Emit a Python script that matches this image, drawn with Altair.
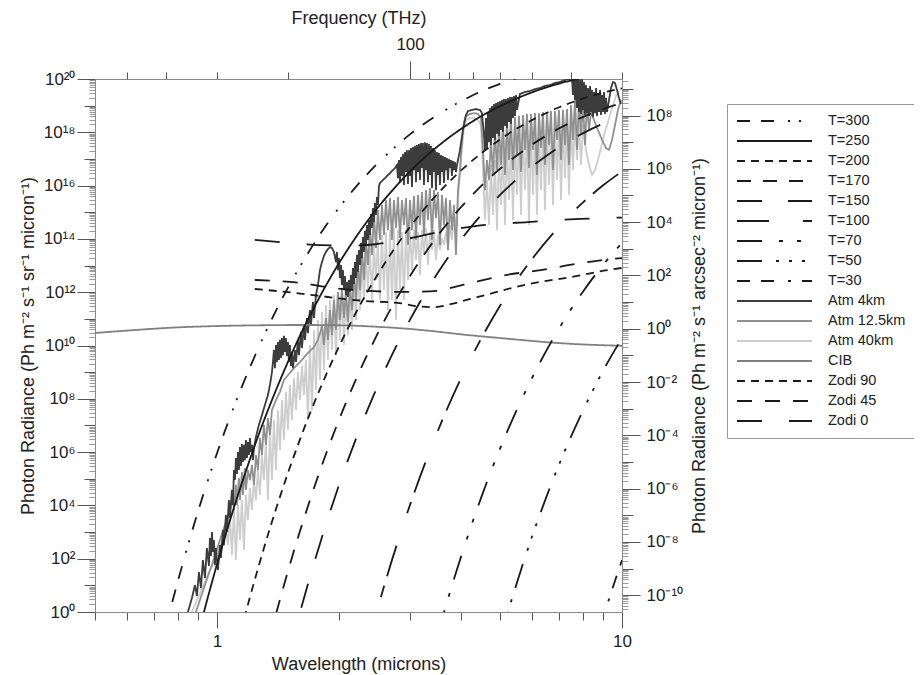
import altair as alt
import pandas as pd

FONT = "Liberation Sans"
TXT = "#222222"
SR_IN_ARCSEC2 = 206264.806 ** 2      # arcsec^2 per steradian
C_UM_THZ = 299.792458                # wavelength(um) * frequency(THz)

# ---------------- blackbody curves: wavelength (um), log10 photon radiance ----------------
t300_lam = [0.7, 0.75, 0.8, 0.85, 0.9, 0.95, 1.0, 1.1, 1.2, 1.3, 1.4, 1.5, 1.6, 1.8, 2.0, 2.2, 2.5, 2.8, 3.0, 3.5, 4.0, 4.5, 5.0, 5.5, 6.0]
t300_log = [-2.36, -0.49, 1.13, 2.56, 3.82, 4.94, 5.95, 7.68, 9.10, 10.30, 11.32, 12.19, 12.94, 14.19, 15.16, 15.94, 16.85, 17.55, 17.93, 18.65, 19.16, 19.54, 19.82, 20.03, 20.19]
t250_lam = [0.9, 0.95, 1.0, 1.1, 1.2, 1.3, 1.4, 1.5, 1.6, 1.8, 2.0, 2.2, 2.5, 2.8, 3.0, 3.5, 4.0, 4.5, 5.0, 5.5, 6.0, 7.0, 8.0]
t250_log = [-0.81, 0.56, 1.78, 3.89, 5.63, 7.10, 8.34, 9.41, 10.34, 11.87, 13.08, 14.05, 15.19, 16.06, 16.54, 17.46, 18.12, 18.61, 18.98, 19.27, 19.50, 19.83, 20.04]
t200_lam = [1.1, 1.2, 1.3, 1.4, 1.5, 1.6, 1.8, 2.0, 2.2, 2.5, 2.8, 3.0, 3.5, 4.0, 4.5, 5.0, 5.5, 6.0, 7.0, 8.0, 9.0, 10.0]
t200_log = [-1.79, 0.43, 2.29, 3.88, 5.25, 6.44, 8.40, 9.95, 11.21, 12.69, 13.83, 14.46, 15.68, 16.56, 17.22, 17.73, 18.14, 18.46, 18.94, 19.26, 19.49, 19.65]
t170_lam = [1.3, 1.4, 1.5, 1.6, 1.8, 2.0, 2.2, 2.5, 2.8, 3.0, 3.5, 4.0, 4.5, 5.0, 5.5, 6.0, 7.0, 8.0, 9.0, 10.0]
t170_log = [-1.95, -0.06, 1.57, 2.99, 5.34, 7.20, 8.70, 10.48, 11.86, 12.62, 14.10, 15.18, 16.00, 16.63, 17.13, 17.54, 18.15, 18.57, 18.88, 19.10]
t150_lam = [1.5, 1.6, 1.8, 2.0, 2.2, 2.5, 2.8, 3.0, 3.5, 4.0, 4.5, 5.0, 5.5, 6.0, 7.0, 8.0, 9.0, 10.0]
t150_log = [-1.70, -0.07, 2.61, 4.75, 6.47, 8.52, 10.11, 10.98, 12.70, 13.96, 14.91, 15.65, 16.24, 16.72, 17.45, 17.96, 18.33, 18.61]
t100_lam = [2.3, 2.4, 2.5, 2.6, 2.8, 3.0, 3.25, 3.5, 4.0, 4.5, 5.0, 5.5, 6.0, 7.0, 8.0, 9.0, 10.0]
t100_log = [-1.84, -0.78, 0.19, 1.09, 2.67, 4.04, 5.50, 6.75, 8.75, 10.28, 11.49, 12.46, 13.25, 14.47, 15.36, 16.02, 16.53]
t70_lam = [3.4, 3.6, 3.8, 4.0, 4.25, 4.5, 5.0, 5.5, 6.0, 7.0, 8.0, 9.0, 10.0]
t70_log = [-1.60, -0.24, 0.97, 2.05, 3.26, 4.33, 6.13, 7.59, 8.79, 10.65, 12.01, 13.04, 13.85]
t50_lam = [4.8, 5.0, 5.25, 5.5, 6.0, 6.5, 7.0, 8.0, 9.0, 10.0]
t50_log = [-1.98, -1.01, 0.09, 1.09, 2.84, 4.30, 5.55, 7.54, 9.08, 10.28]
t30_lam = [8.5, 8.75, 9.0, 9.5, 10.0]
t30_log = [-1.44, -0.79, -0.18, 0.94, 1.95]

# ---------------- cosmic infrared background and zodiacal light ----------------
cib_lam = [0.5, 0.6, 0.7, 0.8, 1.0, 1.3, 1.6, 2.0, 2.5, 3.0, 3.5, 4.0, 5.0, 6.0, 7.0, 8.0, 9.0, 10.0]
cib_log = [10.47, 10.56, 10.63, 10.68, 10.73, 10.76, 10.77, 10.76, 10.70, 10.62, 10.52, 10.42, 10.28, 10.17, 10.09, 10.04, 10.01, 9.99]
zodi90_lam = [1.24, 1.5, 1.73, 2.08, 2.33, 2.83, 3.1, 3.44, 3.8, 4.2, 4.6, 5.1, 6.25, 7.5, 9.2, 10.0]
zodi90_log = [12.12, 12.0, 11.89, 11.74, 11.67, 11.59, 11.48, 11.44, 11.56, 11.74, 11.89, 12.08, 12.38, 12.57, 12.83, 12.91]
zodi45_lam = [1.24, 1.6, 1.93, 2.35, 2.9, 3.5, 3.87, 4.25, 5.2, 6.3, 7.7, 9.5, 10.0]
zodi45_log = [12.46, 12.35, 12.16, 12.05, 12.01, 12.05, 12.2, 12.35, 12.65, 12.83, 13.06, 13.25, 13.28]
zodi0_lam = [1.24, 1.5, 1.8, 2.1, 2.46, 2.9, 3.27, 3.8, 4.34, 5.0, 5.85, 6.8, 7.9, 10.0]
zodi0_log = [13.96, 13.85, 13.77, 13.75, 13.8, 13.98, 14.15, 14.35, 14.48, 14.57, 14.63, 14.7, 14.75, 14.8]

# ---------------- atmospheric spectra: (log10 wavelength um, log10 photon radiance) ----------------
atm4km = [
    (-0.0716, 0.00), (-0.0617, 0.53), (-0.0543, 1.01), (-0.0494, 0.60), (-0.0444, 1.50), (-0.0395, 0.90),
    (-0.0346, 1.95), (-0.0296, 1.28), (-0.0247, 2.40), (-0.0198, 1.73), (-0.0173, 2.78), (-0.0148, 2.10),
    (-0.0123, 3.00), (-0.0099, 2.25), (-0.0074, 2.70), (-0.0049, 1.76), (-0.0025, 2.40), (0.0025, 1.58),
    (0.0074, 2.51), (0.0099, 2.03), (0.0148, 3.08), (0.0173, 2.51), (0.0222, 3.64), (0.0247, 3.00),
    (0.0296, 4.20), (0.0321, 3.53), (0.0370, 4.58), (0.0395, 4.01),
    (0.0420, 5.33), (0.0444, 4.95), (0.0469, 5.78), (0.0494, 5.18), (0.0519, 6.00), (0.0543, 5.33),
    (0.0568, 6.19), (0.0593, 5.48), (0.0617, 6.30), (0.0642, 5.63), (0.0667, 6.27), (0.0691, 5.70),
    (0.0716, 6.45), (0.0741, 5.78), (0.0765, 6.38), (0.0790, 5.89), (0.0815, 6.53), (0.0840, 6.00),
    (0.0864, 6.27), (0.0889, 5.70), (0.0914, 6.15),
    (0.0963, 6.57), (0.1037, 7.02), (0.1111, 7.39), (0.1185, 7.77), (0.1259, 8.14), (0.1309, 8.52), (0.1358, 9.00),
    (0.1383, 9.38), (0.1407, 9.83), (0.1432, 9.15), (0.1457, 10.02), (0.1481, 9.38), (0.1506, 10.13),
    (0.1531, 9.46), (0.1556, 10.21), (0.1580, 9.53), (0.1605, 10.28), (0.1630, 9.64), (0.1654, 10.36),
    (0.1679, 9.76), (0.1704, 10.28), (0.1728, 9.61), (0.1753, 10.13), (0.1778, 9.38), (0.1802, 10.02),
    (0.1827, 9.23), (0.1852, 9.76), (0.1877, 9.15),
    (0.1926, 9.83), (0.1951, 9.38), (0.2000, 10.21), (0.2025, 9.64), (0.2074, 10.51), (0.2099, 9.91),
    (0.2148, 10.77), (0.2173, 10.21), (0.2222, 11.03), (0.2247, 10.47), (0.2296, 11.33), (0.2321, 10.77),
    (0.2370, 11.63), (0.2395, 11.03),
    (0.2444, 11.89), (0.2494, 12.27), (0.2543, 12.83), (0.2593, 13.13), (0.2642, 13.36), (0.2691, 13.51),
    (0.2741, 13.62), (0.2790, 13.69), (0.2840, 13.66), (0.2889, 13.51), (0.2938, 13.13), (0.2963, 13.51),
    (0.2988, 12.83), (0.3012, 13.28), (0.3037, 12.53), (0.3062, 13.02), (0.3086, 12.27), (0.3111, 12.83),
    (0.3136, 12.08), (0.3160, 12.61), (0.3185, 11.89), (0.3210, 12.38), (0.3235, 11.82), (0.3259, 12.46),
    (0.3284, 12.01),
    (0.3309, 12.64), (0.3333, 12.08), (0.3358, 12.91), (0.3383, 12.31), (0.3407, 13.13), (0.3432, 12.53),
    (0.3457, 13.40), (0.3481, 12.76), (0.3506, 13.58), (0.3531, 13.02), (0.3556, 13.85), (0.3580, 13.28),
    (0.3605, 14.07), (0.3630, 13.51), (0.3654, 14.30), (0.3679, 13.73), (0.3704, 14.52), (0.3728, 13.96),
    (0.3753, 14.71), (0.3778, 14.15), (0.3802, 14.93), (0.3827, 14.41), (0.3852, 15.16), (0.3877, 14.63),
    (0.3901, 15.35), (0.3926, 14.90), (0.3951, 15.57), (0.3975, 15.27), (0.4000, 15.98), (0.4025, 16.10),
    (0.4148, 16.28), (0.4272, 16.47), (0.4395, 16.66),
    (0.4444, 16.77), (0.4469, 16.28), (0.4494, 16.96), (0.4519, 16.13), (0.4543, 17.07), (0.4568, 16.36),
    (0.4593, 17.18), (0.4617, 16.02), (0.4642, 17.26), (0.4667, 16.51), (0.4691, 17.33), (0.4716, 16.06),
    (0.4741, 17.33), (0.4765, 16.36), (0.4790, 17.41), (0.4815, 15.95), (0.4840, 17.45), (0.4864, 16.58),
    (0.4889, 17.49), (0.4914, 16.13), (0.4938, 17.52), (0.4963, 16.51), (0.4988, 17.56), (0.5012, 16.21),
    (0.5037, 17.60), (0.5062, 16.66), (0.5086, 17.60), (0.5111, 16.02), (0.5136, 17.63), (0.5160, 16.58),
    (0.5185, 17.60), (0.5210, 16.13), (0.5235, 17.56), (0.5259, 16.40), (0.5284, 17.49), (0.5309, 15.91),
    (0.5333, 17.41), (0.5358, 16.51), (0.5383, 17.33), (0.5407, 15.83), (0.5432, 17.26), (0.5457, 16.40),
    (0.5481, 17.22), (0.5506, 16.02), (0.5531, 17.15), (0.5556, 16.51), (0.5580, 17.11), (0.5605, 16.10),
    (0.5630, 17.07), (0.5654, 16.58), (0.5679, 17.03), (0.5704, 16.21), (0.5728, 17.00), (0.5753, 16.66),
    (0.5778, 16.96), (0.5802, 16.36), (0.5827, 16.92), (0.5852, 16.58), (0.5877, 16.88), (0.5901, 16.51),
    (0.5926, 16.77),
    (0.6000, 17.33), (0.6074, 18.09), (0.6148, 18.65), (0.6198, 18.80), (0.6296, 18.84), (0.6395, 18.87),
    (0.6494, 18.84), (0.6543, 18.72), (0.6593, 17.90), (0.6617, 17.33),
    (0.6642, 18.54), (0.6667, 17.41), (0.6691, 18.76), (0.6716, 17.63), (0.6741, 18.91), (0.6765, 17.52),
    (0.6790, 18.99), (0.6815, 17.79), (0.6840, 19.06), (0.6864, 17.71), (0.6889, 19.10), (0.6914, 17.94),
    (0.6938, 19.14), (0.6963, 17.86), (0.6988, 19.17), (0.7012, 18.09), (0.7037, 19.21), (0.7062, 18.01),
    (0.7086, 19.25), (0.7111, 18.24), (0.7136, 19.25), (0.7160, 18.16), (0.7185, 19.29), (0.7210, 18.39),
    (0.7235, 19.32), (0.7259, 18.31), (0.7284, 19.32), (0.7309, 18.54), (0.7333, 19.36), (0.7358, 18.61),
    (0.7383, 19.40), (0.7407, 18.84),
    (0.7481, 19.44), (0.7605, 19.51), (0.7728, 19.55), (0.7852, 19.62), (0.7975, 19.66), (0.8099, 19.74),
    (0.8222, 19.77), (0.8346, 19.85), (0.8469, 19.89), (0.8593, 19.96), (0.8716, 20.00),
    (0.8765, 20.04), (0.8790, 19.40), (0.8815, 20.07), (0.8840, 19.21), (0.8864, 20.04), (0.8889, 18.91),
    (0.8914, 20.07), (0.8938, 18.76), (0.8963, 19.96), (0.8988, 18.69), (0.9012, 20.04), (0.9037, 18.84),
    (0.9062, 19.89), (0.9086, 18.65), (0.9111, 19.77), (0.9136, 18.72), (0.9160, 19.66), (0.9185, 18.61),
    (0.9210, 19.74), (0.9235, 18.76), (0.9259, 19.59), (0.9284, 18.57), (0.9309, 19.51), (0.9333, 18.72),
    (0.9358, 19.66), (0.9383, 18.61), (0.9407, 19.47), (0.9432, 18.76), (0.9457, 19.59), (0.9481, 18.65),
    (0.9506, 19.40), (0.9531, 18.76), (0.9556, 19.51), (0.9580, 18.69), (0.9605, 19.29), (0.9630, 18.76),
    (0.9679, 19.21), (0.9728, 19.66), (0.9778, 19.89), (0.9827, 19.85), (0.9877, 19.59), (0.9926, 19.29),
    (0.9975, 19.06),
]

atm12km = [
    (-0.0519, 0.00), (-0.0420, 0.45), (-0.0321, 0.90), (-0.0222, 1.35), (-0.0123, 1.76), (-0.0025, 2.25),
    (0.0074, 2.70), (0.0173, 3.15), (0.0272, 3.60), (0.0346, 4.01), (0.0395, 4.58), (0.0420, 3.83),
    (0.0469, 4.77), (0.0494, 4.01), (0.0543, 5.03), (0.0568, 4.20), (0.0617, 5.25), (0.0642, 4.39),
    (0.0691, 5.40), (0.0716, 4.58), (0.0765, 5.33), (0.0815, 4.95), (0.0864, 5.52), (0.0914, 4.77),
    (0.0963, 5.89), (0.1012, 5.33), (0.1062, 6.53), (0.1111, 5.89), (0.1160, 7.02), (0.1210, 6.27),
    (0.1259, 7.28), (0.1309, 6.64), (0.1358, 7.58), (0.1457, 7.95), (0.1556, 8.26), (0.1654, 8.71),
    (0.1802, 8.97), (0.1951, 9.23), (0.2099, 9.46), (0.2247, 9.72), (0.2395, 9.94), (0.2494, 10.21),
    (0.2568, 10.58), (0.2593, 10.77), (0.2642, 10.02), (0.2691, 11.03), (0.2741, 10.21), (0.2790, 11.33),
    (0.2840, 10.39), (0.2889, 11.71), (0.2938, 10.58), (0.2988, 12.01), (0.3037, 10.96), (0.3086, 12.16),
    (0.3136, 11.03), (0.3185, 12.08), (0.3235, 10.88), (0.3284, 12.27), (0.3333, 11.33), (0.3383, 12.65),
    (0.3432, 11.71), (0.3481, 13.13), (0.3531, 12.08), (0.3580, 13.58), (0.3630, 12.46), (0.3679, 13.96),
    (0.3728, 13.02), (0.3778, 14.41), (0.3827, 13.40), (0.3877, 14.90), (0.3926, 13.66), (0.3975, 15.08),
    (0.4025, 13.96), (0.4074, 15.27), (0.4123, 14.15), (0.4173, 15.46), (0.4222, 14.33), (0.4272, 15.53),
    (0.4321, 13.96), (0.4370, 15.46), (0.4420, 14.41), (0.4469, 15.57), (0.4519, 14.03), (0.4568, 15.46),
    (0.4617, 14.52), (0.4667, 15.53), (0.4716, 13.77), (0.4765, 15.46), (0.4815, 14.33), (0.4864, 15.61),
    (0.4914, 13.96), (0.4963, 15.65), (0.5012, 14.52), (0.5062, 15.76), (0.5111, 14.15), (0.5160, 15.83),
    (0.5210, 14.71), (0.5259, 15.91), (0.5309, 13.96), (0.5358, 15.83), (0.5407, 14.78), (0.5457, 15.76),
    (0.5506, 13.77), (0.5556, 15.65), (0.5605, 14.52), (0.5654, 15.53), (0.5704, 13.58), (0.5753, 15.46),
    (0.5802, 14.33), (0.5852, 15.27), (0.5901, 13.40), (0.5951, 15.83), (0.6000, 16.59), (0.6049, 17.71),
    (0.6099, 18.39), (0.6148, 18.61), (0.6247, 18.69), (0.6346, 18.72), (0.6444, 18.69), (0.6519, 18.54),
    (0.6568, 17.34), (0.6617, 15.83), (0.6667, 16.96), (0.6716, 16.21), (0.6765, 17.71), (0.6815, 16.40),
    (0.6864, 18.09), (0.6914, 16.59), (0.6963, 18.27), (0.7012, 16.77), (0.7062, 18.39), (0.7111, 16.40),
    (0.7160, 18.46), (0.7210, 16.96), (0.7259, 18.54), (0.7309, 16.59), (0.7358, 18.57), (0.7407, 17.15),
    (0.7457, 18.61), (0.7506, 16.51), (0.7556, 18.65), (0.7605, 17.34), (0.7654, 18.69), (0.7704, 16.66),
    (0.7753, 18.69), (0.7802, 17.34), (0.7852, 18.72), (0.7901, 16.40), (0.7951, 18.72), (0.8000, 17.41),
    (0.8049, 18.76), (0.8099, 16.77), (0.8148, 18.76), (0.8198, 17.52), (0.8247, 18.80), (0.8296, 16.59),
    (0.8346, 18.80), (0.8395, 17.71), (0.8444, 18.84), (0.8494, 16.96), (0.8543, 18.84), (0.8593, 17.52),
    (0.8642, 18.87), (0.8691, 16.77), (0.8741, 19.02), (0.8790, 17.71), (0.8840, 19.21), (0.8889, 17.34),
    (0.8938, 19.29), (0.8988, 17.90), (0.9037, 19.14), (0.9086, 17.52), (0.9136, 19.02), (0.9185, 18.09),
    (0.9235, 18.76), (0.9309, 18.46), (0.9383, 18.16), (0.9457, 17.90), (0.9531, 17.64), (0.9605, 17.41),
    (0.9679, 17.34), (0.9753, 17.71), (0.9827, 18.27), (0.9901, 18.84), (0.9975, 19.21),
]

atm40km = [
    (-0.0617, 0.00), (-0.0469, 0.53), (-0.0321, 1.05), (-0.0173, 1.58), (-0.0025, 2.10), (0.0123, 2.63),
    (0.0222, 3.08), (0.0272, 2.51), (0.0321, 3.64), (0.0370, 2.14), (0.0420, 3.83), (0.0469, 1.95),
    (0.0519, 4.01), (0.0568, 2.70), (0.0617, 4.20), (0.0667, 2.33), (0.0716, 4.39), (0.0765, 3.45),
    (0.0815, 4.65), (0.0864, 3.83), (0.0914, 4.95), (0.0963, 4.20), (0.1012, 5.33), (0.1062, 4.39),
    (0.1111, 5.89), (0.1160, 4.95), (0.1210, 6.45), (0.1259, 4.20), (0.1309, 6.83), (0.1358, 4.95),
    (0.1407, 7.20), (0.1457, 5.33), (0.1506, 7.58), (0.1556, 6.08), (0.1605, 7.95), (0.1654, 6.45),
    (0.1704, 8.26), (0.1753, 6.83), (0.1802, 8.52), (0.1852, 7.20), (0.1901, 8.78), (0.1951, 7.58),
    (0.2000, 9.01), (0.2049, 7.95), (0.2099, 9.23), (0.2148, 8.14), (0.2198, 9.46), (0.2247, 7.20),
    (0.2296, 10.02), (0.2346, 7.58), (0.2395, 10.58), (0.2444, 8.33), (0.2494, 10.96), (0.2543, 8.71),
    (0.2593, 11.26), (0.2642, 9.08), (0.2691, 11.52), (0.2741, 9.46), (0.2790, 11.71), (0.2840, 9.83),
    (0.2889, 11.89), (0.2938, 9.64), (0.2988, 12.01), (0.3037, 10.21), (0.3086, 12.08), (0.3136, 10.02),
    (0.3185, 12.01), (0.3235, 10.39), (0.3284, 12.08), (0.3333, 10.58), (0.3383, 12.38), (0.3432, 10.96),
    (0.3481, 12.76), (0.3531, 11.33), (0.3580, 13.13), (0.3630, 11.71), (0.3679, 13.40), (0.3728, 12.08),
    (0.3778, 13.66), (0.3827, 11.71), (0.3877, 13.77), (0.3926, 12.46), (0.3975, 13.96), (0.4025, 11.71),
    (0.4074, 14.15), (0.4123, 12.08), (0.4173, 14.26), (0.4222, 11.33), (0.4272, 14.33), (0.4321, 11.71),
    (0.4370, 14.41), (0.4420, 10.96), (0.4469, 14.33), (0.4519, 12.08), (0.4568, 14.26), (0.4617, 11.71),
    (0.4667, 14.33), (0.4716, 12.46), (0.4765, 14.41), (0.4815, 12.83), (0.4864, 14.33), (0.4914, 13.21),
    (0.4963, 14.26), (0.5012, 12.65), (0.5062, 14.33), (0.5111, 13.40), (0.5160, 14.41), (0.5210, 13.02),
    (0.5259, 14.26), (0.5309, 13.58), (0.5358, 14.33), (0.5407, 13.21), (0.5457, 14.15), (0.5506, 13.58),
    (0.5556, 14.03), (0.5605, 13.77), (0.5654, 14.26), (0.5704, 13.66), (0.5753, 14.52), (0.5802, 13.96),
    (0.5852, 14.90), (0.5901, 14.33), (0.5951, 15.46), (0.6000, 16.40), (0.6049, 17.34), (0.6099, 18.16),
    (0.6148, 18.46), (0.6247, 18.54), (0.6346, 18.54), (0.6444, 18.46), (0.6519, 18.27), (0.6568, 16.59),
    (0.6617, 14.71), (0.6667, 16.21), (0.6716, 14.52), (0.6765, 16.77), (0.6815, 14.90), (0.6864, 16.96),
    (0.6914, 14.33), (0.6963, 17.34), (0.7012, 15.27), (0.7062, 17.52), (0.7111, 14.52), (0.7160, 17.71),
    (0.7210, 15.46), (0.7259, 17.79), (0.7309, 14.71), (0.7358, 17.90), (0.7407, 15.65), (0.7457, 17.97),
    (0.7506, 14.90), (0.7556, 18.09), (0.7605, 15.83), (0.7654, 18.09), (0.7704, 14.52), (0.7753, 18.16),
    (0.7802, 15.65), (0.7852, 18.16), (0.7901, 14.90), (0.7951, 18.24), (0.8000, 15.83), (0.8049, 18.24),
    (0.8099, 15.08), (0.8148, 18.27), (0.8198, 16.02), (0.8247, 18.27), (0.8296, 15.27), (0.8346, 18.31),
    (0.8395, 16.21), (0.8444, 18.31), (0.8494, 15.46), (0.8543, 18.35), (0.8593, 16.28), (0.8642, 18.39),
    (0.8691, 15.65), (0.8741, 18.46), (0.8790, 16.59), (0.8840, 18.65), (0.8889, 16.96), (0.8938, 18.54),
    (0.8988, 16.77), (0.9037, 18.27), (0.9111, 17.34), (0.9185, 16.77), (0.9259, 16.40), (0.9333, 16.59),
    (0.9407, 16.96), (0.9481, 17.41), (0.9556, 17.90), (0.9630, 18.27), (0.9704, 18.65), (0.9778, 19.02),
    (0.9852, 19.36), (0.9926, 19.51),
]

# ---------------- series styling (legend order) ----------------
series_names = ["T=300", "T=250", "T=200", "T=170", "T=150", "T=100", "T=70", "T=50", "T=30",
                "Atm 4km", "Atm 12.5km", "Atm 40km", "CIB", "Zodi 90", "Zodi 45", "Zodi 0"]
series_colors = ["#1a1a1a"] * 9 + ["#3c3c3c", "#909090", "#cdcdcd", "#808080", "#1a1a1a", "#1a1a1a", "#1a1a1a"]
series_dashes = [[13, 11, 13, 14, 2, 9, 2, 11], [1, 0], [8, 6], [14, 12], [25, 26], [32, 34, 12, 10],
                 [25, 17, 4, 14, 4, 14], [25, 14, 3, 10, 3, 10, 3, 12], [13, 11, 13, 14, 3, 11],
                 [1, 0], [1, 0], [1, 0], [1, 0], [8, 6], [15, 13], [25, 27]]
series_widths = [1.8] * 9 + [0.7, 0.7, 0.7, 2.0, 1.8, 1.8, 1.8]

# ---------------- tables ----------------
smooth_rows = []
def add_curve(name, lams, logs):
    for i, (l, v) in enumerate(zip(lams, logs)):
        smooth_rows.append({"series": name, "lam": l, "rad": 10.0 ** v, "i": i})

add_curve("CIB", cib_lam, cib_log)
add_curve("Zodi 90", zodi90_lam, zodi90_log)
add_curve("Zodi 45", zodi45_lam, zodi45_log)
add_curve("Zodi 0", zodi0_lam, zodi0_log)
for name, la, lo in [("T=30", t30_lam, t30_log), ("T=50", t50_lam, t50_log), ("T=70", t70_lam, t70_log),
                     ("T=100", t100_lam, t100_log), ("T=150", t150_lam, t150_log), ("T=170", t170_lam, t170_log),
                     ("T=200", t200_lam, t200_log), ("T=250", t250_lam, t250_log), ("T=300", t300_lam, t300_log)]:
    add_curve(name, la, lo)
smooth_df = pd.DataFrame(smooth_rows)

spec_rows = []
for name, pairs in [("Atm 40km", atm40km), ("Atm 12.5km", atm12km), ("Atm 4km", atm4km)]:
    for i, (ll, v) in enumerate(pairs):
        spec_rows.append({"series": name, "lam": 10.0 ** ll, "rad": 10.0 ** v, "i": i})
spec_df = pd.DataFrame(spec_rows)

cib_df = pd.DataFrame({"lam": cib_lam, "rad": [10.0 ** v for v in cib_log]})

# ---------------- axes ----------------
SUP = str.maketrans("0123456789-", "⁰¹²³⁴⁵⁶⁷⁸⁹⁻")
LG = "(log(datum.value)/LN10)"
ISDEC = f"abs({LG}-round({LG}))<0.001"
ISEVEN = f"{ISDEC} && round({LG})%2==0"

left_vals = [float(m * 10 ** k) for k in range(0, 20) for m in range(1, 10)] + [1e20]
left_arr = "[" + ",".join(f"'10{str(k).translate(SUP)}'" for k in range(0, 21)) + "]"
right_vals = [m * 10.0 ** k for k in range(-11, 10) for m in range(1, 10)
              if 1.0 / SR_IN_ARCSEC2 <= m * 10.0 ** k <= 1e20 / SR_IN_ARCSEC2]
right_arr = "[" + ",".join(f"'10{str(k).translate(SUP)}'" for k in range(-11, 10)) + "]"

y_tick_size = {"condition": [{"test": ISEVEN, "value": 18}, {"test": ISDEC, "value": 11}], "value": 6}
y_tick_color = {"condition": {"test": ISDEC, "value": "#555555"}, "value": "#9a9a9a"}

common = dict(labelFont=FONT, titleFont=FONT, labelColor=TXT, titleColor=TXT, titleFontWeight="normal",
              domainColor="#8a8a8a", grid=False, labelOverlap=False, labelFlush=False, labelBound=False)

left_axis = alt.Axis(orient="left", values=left_vals, labelExpr=f"({ISEVEN}) ? {left_arr}[round({LG})] : ''",
                     tickSize=y_tick_size, tickColor=y_tick_color, labelFontSize=17, labelPadding=2,
                     title="Photon Radiance (Ph m⁻² s⁻¹ sr⁻¹ micron⁻¹)", titleFontSize=18, titlePadding=6, **common)
right_axis = alt.Axis(orient="right", values=right_vals,
                      labelExpr=f"({ISEVEN}) ? {right_arr}[round({LG})+11] : ''",
                      tickSize=y_tick_size, tickColor=y_tick_color, labelFontSize=17, labelPadding=6,
                      title="Photon Radiance (Ph m⁻² s⁻¹ arcsec⁻² micron⁻¹)", titleFontSize=18,
                      titleAngle=270, titlePadding=26, **common)

x_tick_vals = [0.5, 0.6, 0.7, 0.8, 0.9, 1.0, 2.0, 3.0, 4.0, 5.0, 6.0, 7.0, 8.0, 9.0, 10.0]
X_MAJOR = "datum.value == 1 || datum.value == 10"
bottom_axis = alt.Axis(orient="bottom", values=x_tick_vals, labelExpr=f"({X_MAJOR}) ? format(datum.value, 'd') : ''",
                       tickSize={"condition": {"test": X_MAJOR, "value": 16}, "value": 8}, tickColor="#555555",
                       labelFontSize=17, labelPadding=5, title="Wavelength (microns)", titleFontSize=18,
                       titlePadding=6, **common)

freq_ticks = [600, 500, 400, 300, 200, 100, 90, 80, 70, 60, 50, 40, 30]
top_vals = [C_UM_THZ / f for f in freq_ticks]
F_MAJOR = f"abs({C_UM_THZ}/datum.value - 100) < 0.01"
top_axis = alt.Axis(orient="top", values=top_vals, labelExpr=f"({F_MAJOR}) ? '100' : ''",
                    tickSize={"condition": {"test": F_MAJOR, "value": 18}, "value": 7}, tickColor="#555555",
                    labelFontSize=17, labelPadding=8, title="Frequency (THz)", titleFontSize=18,
                    titlePadding=8, **common)

xscale = alt.Scale(type="log", domain=[0.5, 10], nice=False)
yscale = alt.Scale(type="log", domain=[1, 1e20], nice=False)

legend = alt.Legend(title=None, orient="none", legendX=632, legendY=25, symbolType="stroke",
                    symbolSize=5625, clipHeight=16, rowPadding=4, padding=9, strokeColor="#9a9a9a",
                    fillColor="#ffffff", labelFont=FONT, labelFontSize=14.5, labelColor=TXT,
                    labelOffset=15, labelLimit=200)

enc = dict(
    x=alt.X("lam:Q", scale=xscale, axis=bottom_axis),
    y=alt.Y("rad:Q", scale=yscale, axis=left_axis),
    color=alt.Color("series:N", scale=alt.Scale(domain=series_names, range=series_colors), legend=legend),
    strokeDash=alt.StrokeDash("series:N", scale=alt.Scale(domain=series_names, range=series_dashes), legend=legend),
    strokeWidth=alt.StrokeWidth("series:N", scale=alt.Scale(domain=series_names, range=series_widths), legend=legend),
    order=alt.Order("i:Q"),
)

spec_layer = alt.Chart(spec_df).mark_line(clip=True).encode(**enc)
smooth_layer = alt.Chart(smooth_df).mark_line(clip=True, interpolate="monotone").encode(**enc)
main = alt.layer(spec_layer, smooth_layer)

side = alt.Chart(cib_df).transform_calculate(
    rad_as=f"datum.rad / {SR_IN_ARCSEC2}"
).mark_line(opacity=0).encode(
    x=alt.X("lam:Q", scale=alt.Scale(type="log", domain=[0.5, 10], nice=False), axis=top_axis),
    y=alt.Y("rad_as:Q", scale=alt.Scale(type="log", domain=[1 / SR_IN_ARCSEC2, 1e20 / SR_IN_ARCSEC2], nice=False),
            axis=right_axis),
)

chart = alt.layer(main, side).resolve_scale(x="independent", y="independent").resolve_axis(
    x="independent", y="independent"
).properties(
    width=527, height=533,
    padding={"left": 87, "top": 71, "right": 292, "bottom": 63},
    autosize=alt.AutoSizeParams(type="none"),
).configure_view(stroke=None).configure(font=FONT, background="white")

chart.save("out.html", embed_options={"renderer": "svg", "actions": False})
